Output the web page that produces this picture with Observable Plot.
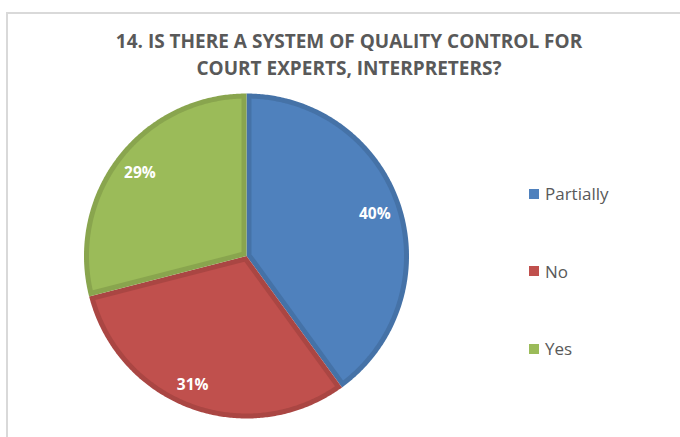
<!DOCTYPE html>
<html>
<head>
<meta charset="utf-8">
<script src="https://cdn.jsdelivr.net/npm/d3@7"></script>
<script src="https://cdn.jsdelivr.net/npm/@observablehq/plot@0.6"></script>
<style>
  html, body { margin: 0; padding: 0; background: #fff; }
  #wrap { position: relative; width: 680px; height: 437px; overflow: hidden; font-family: "Open Sans", "Liberation Sans", sans-serif; }
  #frame { position: absolute; left: 6px; top: 12px; width: 700px; height: 460px; border-top: 2px solid #d9d9d9; border-left: 2px solid #d9d9d9; box-sizing: border-box; }
  #title { position: absolute; left: 0; width: 698px; top: 28px; text-align: center; color: #595959; font-weight: 700; font-size: 19px; line-height: 27px; }
  #chart { position: absolute; left: 0; top: 0; }
  #legend { position: absolute; left: 529px; top: 0; color: #595959; font-size: 17px; }
  .item { position: absolute; left: 0; display: flex; align-items: center; white-space: nowrap; }
  .sw { width: 10px; height: 10px; margin-right: 6px; }
</style>
</head>
<body>
<div id="wrap">
  <div id="frame"></div>
  <div id="chart"></div>
  <div id="title">14. IS THERE A SYSTEM OF QUALITY CONTROL FOR<br>COURT EXPERTS, INTERPRETERS?</div>
  <div id="legend"></div>
</div>
<script>
// ---- data ----
const categories = ["Partially", "No", "Yes"];
const values = [40, 31, 29];
const labels = ["40%", "31%", "29%"];

// ---- styles ----
const fillColors = ["#4f81bd", "#c0504d", "#9bbb59"];
const edgeColors = ["#4572a7", "#aa4643", "#89a54e"];

// ---- layout ----
const W = 680, H = 437;
const cx = 246, cy = 255.5, R = 162.5;
const borderPx = 5;

const pie = d3.pie().sort(null).value(d => d.value)(categories.map((c, i) => ({cat: c, value: values[i], i})));

function wedge(a0, a1, inset) {
  const pts = [];
  const r = 1 - inset;
  const half = (a1 - a0) / 2;
  const mid = (a0 + a1) / 2;
  const apexD = inset > 0 ? inset / Math.sin(half) : 0;
  pts.push([apexD * Math.sin(mid), apexD * Math.cos(mid)]);
  const off = inset > 0 ? Math.asin(inset / r) : 0;
  const s = a0 + off, e = a1 - off;
  const n = Math.max(8, Math.ceil((e - s) / 0.01));
  for (let k = 0; k <= n; k++) {
    const a = s + (e - s) * k / n;
    pts.push([r * Math.sin(a), r * Math.cos(a)]);
  }
  pts.push(pts[0]);
  return pts;
}

const outer = [], inner = [], textPts = [];
const inset = borderPx / R;
pie.forEach(p => {
  wedge(p.startAngle, p.endAngle, 0).forEach(([x, y]) => outer.push({x, y, cat: p.data.cat, i: p.data.i}));
  wedge(p.startAngle, p.endAngle, inset).forEach(([x, y]) => inner.push({x, y, cat: p.data.cat, i: p.data.i}));
  const mid = (p.startAngle + p.endAngle) / 2 + (p.data.i === 1 ? 0.05 : 0);
  const rr = p.data.i === 1 ? 0.86 : 0.83;
  textPts.push({x: rr * Math.sin(mid), y: rr * Math.cos(mid), label: labels[p.data.i]});
});

const marks = [];
categories.forEach((c, i) => {
  marks.push(Plot.line(outer.filter(d => d.i === i), {x: "x", y: "y", fill: edgeColors[i], stroke: "none"}));
  marks.push(Plot.line(inner.filter(d => d.i === i), {x: "x", y: "y", fill: fillColors[i], stroke: "none"}));
});
marks.push(Plot.text(textPts, {x: "x", y: "y", text: "label", fill: "white", fontWeight: "bold", fontSize: 15.5, fontFamily: "Open Sans"}));

const chart = Plot.plot({
  width: W, height: H,
  margin: 0,
  x: {domain: [-1, 1], range: [cx - R, cx + R], axis: null},
  y: {domain: [-1, 1], range: [cy + R, cy - R], axis: null},
  style: {background: "transparent", overflow: "visible"},
  marks
});
document.getElementById("chart").appendChild(chart);

const legendYs = [193.5, 271, 348.5];
const leg = document.getElementById("legend");
categories.forEach((c, i) => {
  const it = document.createElement("div");
  it.className = "item";
  it.style.top = (legendYs[i] - 12) + "px";
  it.style.height = "24px";
  it.innerHTML = `<span class="sw" style="background:${fillColors[i]}"></span><span>${c}</span>`;
  leg.appendChild(it);
});
</script>
</body>
</html>
